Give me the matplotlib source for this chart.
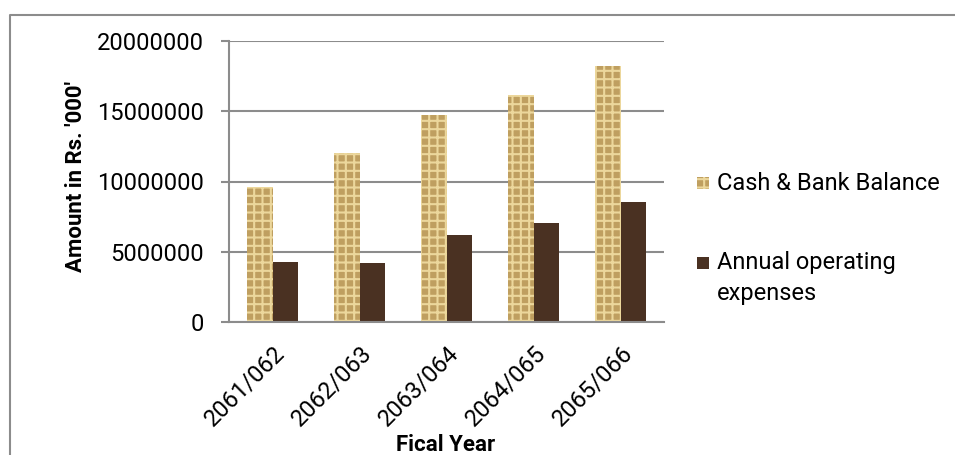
import matplotlib
matplotlib.use("Agg")
import matplotlib.pyplot as plt
from matplotlib.patches import Rectangle
from matplotlib.lines import Line2D
from matplotlib.transforms import ScaledTranslation
import numpy as np

# Fiscal years and amounts (Rs. '000)
years = ["2061/062", "2062/063", "2063/064", "2064/065", "2065/066"]
cash_bank = [9600000, 12000000, 14700000, 16150000, 18200000]
operating_exp = [4270000, 4200000, 6200000, 7050000, 8550000]
series_names = ["Cash & Bank Balance", "Annual operating\nexpenses"]
y_ticks = [0, 5000000, 10000000, 15000000, 20000000]

plt.rcParams["font.family"] = ["Roboto", "DejaVu Sans"]
plt.rcParams["hatch.linewidth"] = 1.5

W, H = 955, 455
fig = plt.figure(figsize=(W / 100, H / 100), dpi=100)
fig.patch.set_facecolor("white")

ax = fig.add_axes([229 / W, 1 - 322 / H, (664 - 229) / W, (322 - 41) / H])

grid_col = "#8c8c8c"
x = np.arange(len(years))
bw = 0.293

tan = "#bf9f60"
weave = "#ecd79c"
dark = "#4a3122"

cash_bars = ax.bar(x - bw / 2, cash_bank, width=bw, facecolor=tan,
                   edgecolor=weave, hatch="++", linewidth=0, zorder=3)
exp_bars = ax.bar(x + bw / 2, operating_exp, width=bw, color=dark,
                  linewidth=0, zorder=3)

ax.set_xlim(-0.5, len(years) - 0.5)
ax.set_ylim(0, 20000000)
ax.set_yticks(y_ticks)
ax.set_yticklabels([str(v) for v in y_ticks])
ax.set_xticks(x)
ax.set_xticklabels(years, rotation=45, ha="right", rotation_mode="anchor")
shift = ScaledTranslation(-7 / 100, 0, fig.dpi_scale_trans)
for lbl in ax.get_xticklabels():
    lbl.set_transform(lbl.get_transform() + shift)

ax.yaxis.grid(True, color=grid_col, linewidth=1.5, zorder=0)
ax.set_axisbelow(True)
for s in ["top", "right", "bottom"]:
    ax.spines[s].set_visible(False)
ax.spines["left"].set_color(grid_col)
ax.spines["left"].set_linewidth(1.5)
ax.tick_params(axis="y", length=6, width=1.5, color=grid_col, pad=12,
               labelsize=17, labelcolor="black")
ax.tick_params(axis="x", length=0, pad=14, labelsize=17, labelcolor="black")
ax.axhline(0, color=grid_col, linewidth=1.5, zorder=4, clip_on=False)

ax.set_ylabel("Amount in Rs. '000'", fontsize=16, fontweight="bold")
ax.yaxis.set_label_coords(-0.326, 0.518)
fig.text(446 / W, 1 - 445 / H, "Fical Year", fontsize=16, fontweight="bold",
         ha="center", va="center")

# legend entries
def legend_entry(ypix, bar, label):
    sq = 12
    r = Rectangle((697 / W, 1 - (ypix + sq / 2) / H), sq / W, sq / H,
                  transform=fig.transFigure, facecolor=bar.get_facecolor(),
                  edgecolor=bar.get_edgecolor(), hatch=bar.get_hatch(),
                  linewidth=0)
    fig.patches.append(r)
    if "\n" in label:
        fig.text(717 / W, 1 - (ypix - 12) / H, label, fontsize=17, ha="left",
                 va="top", linespacing=1.42)
    else:
        fig.text(717 / W, 1 - ypix / H, label, fontsize=17, ha="left",
                 va="center")

legend_entry(183, cash_bars[0], series_names[0])
legend_entry(263, exp_bars[0], series_names[1])

# outer chart frame (top and left edges visible)
fig.add_artist(Line2D([10 / W, 10 / W, 1.0], [0.0, 1 - 15 / H, 1 - 15 / H],
                      transform=fig.transFigure, color="#8c8c8c", linewidth=1.5))

fig.savefig("out.png", dpi=100)
